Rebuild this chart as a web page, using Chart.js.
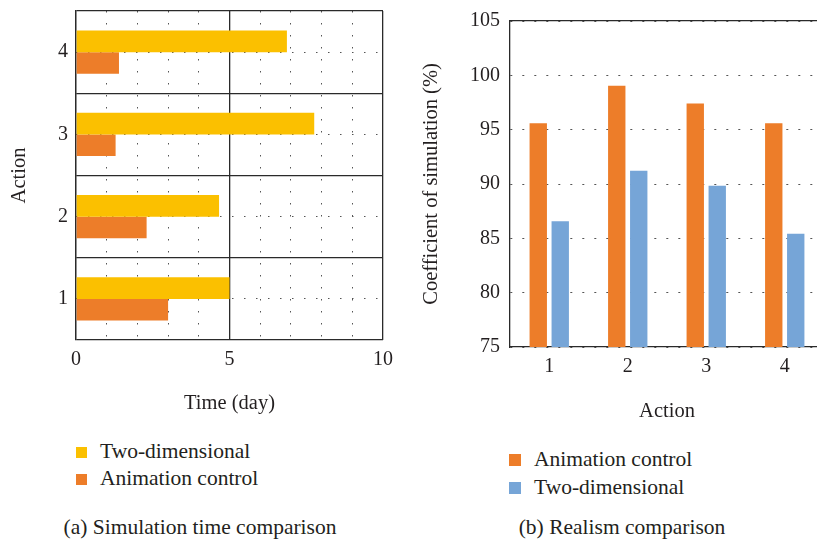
<!DOCTYPE html>
<html>
<head>
<meta charset="utf-8">
<script src="https://cdn.jsdelivr.net/npm/chart.js@4.4.1/dist/chart.umd.min.js"></script>
<style>
  html, body { margin: 0; padding: 0; background: #fff; overflow: hidden; }
  body { width: 817px; height: 539px; position: relative; font-family: 'Liberation Serif', serif; color: #231f20; }
  canvas { position: absolute; top: 0; }
  #timeChart { left: 0; }
  #realChart { left: 410px; }
  .legend { position: absolute; font-size: 21.5px; }
  .legend div { position: relative; white-space: nowrap; }
  .legend span { position: absolute; left: 0; }
  .caption { position: absolute; font-size: 21.5px; line-height: 26px; white-space: nowrap; transform: translateX(-50%); }
</style>
</head>
<body>
<canvas id="timeChart" width="400" height="420"></canvas>
<canvas id="realChart" width="420" height="430"></canvas>
<div class="legend" id="timeLegend" style="left:76px; top:438px; line-height:27px;"></div>
<div class="legend" id="realLegend" style="left:509px; top:446px; line-height:27.5px;"></div>
<div class="caption" style="left:200px; top:514px;">(a) Simulation time comparison</div>
<div class="caption" style="left:622px; top:514px;">(b) Realism comparison</div>
<script>
// data
const actions = ['1', '2', '3', '4'];
const timeTwoDim = [5.0, 4.66, 7.76, 6.87];
const timeAnim = [3.0, 2.3, 1.29, 1.4];
const timeTicks = [0, 5, 10];
const realAnim = [95.6, 99.05, 97.4, 95.6];
const realTwoDim = [86.57, 91.23, 89.85, 85.43];
const realTicks = [75, 80, 85, 90, 95, 100, 105];

const YELLOW = '#FBC000';
const ORANGE = '#ED7D29';
const BLUE = '#76A5D7';
const TEXT = '#231f20';
const SOLID = '#2a2a2a';
const DOT = '#555';
const DOTS = [1.5, 10.5];
const FONT = 'Liberation Serif';

const tickFont = { family: FONT, size: 20 };
const titleFont = { family: FONT, size: 20.5 };

// fix the axis box so the plot area lands where the picture has it
function fixWidth(w) {
    return s => { s.width = w; s.paddingTop = 0; s.paddingBottom = 0; };
}
function fixHeight(h) {
    return s => { s.height = h; s.paddingLeft = 0; s.paddingRight = 0; };
}

// --- CHART A: simulation time (horizontal bars) ---
const timeChart = new Chart(document.getElementById('timeChart'), {
    type: 'bar',
    data: {
        labels: actions,
        datasets: [
            { label: 'Two-dimensional', data: timeTwoDim, backgroundColor: YELLOW, categoryPercentage: 0.525, barPercentage: 1 },
            { label: 'Animation control', data: timeAnim, backgroundColor: ORANGE, categoryPercentage: 0.525, barPercentage: 1 }
        ]
    },
    options: {
        indexAxis: 'y',
        responsive: false,
        animation: false,
        devicePixelRatio: 1,
        layout: { padding: { left: 0, top: 11, right: 17, bottom: 0 } },
        plugins: { legend: { display: false }, tooltip: { enabled: false } },
        scales: {
            x: {
                type: 'linear', min: 0, max: 10,
                afterFit: fixHeight(80),
                grid: {
                    drawTicks: false,
                    color: c => c.tick && timeTicks.includes(c.tick.value) ? SOLID : DOT,
                    lineWidth: c => c.tick && timeTicks.includes(c.tick.value) ? 1.3 : 1
                },
                border: { display: false, dash: c => c.tick && !timeTicks.includes(c.tick.value) ? DOTS : [] },
                ticks: { stepSize: 1, padding: 8, font: tickFont, color: TEXT,
                         callback: v => timeTicks.includes(v) ? String(v) : '' },
                title: { display: true, text: 'Time (day)', font: titleFont, color: TEXT, padding: { top: 0, bottom: 3.7 } }
            },
            y: {
                type: 'category', reverse: true, offset: true,
                afterFit: fixWidth(76),
                grid: { offset: true, color: SOLID, lineWidth: 1.3, drawTicks: false },
                border: { color: SOLID, width: 1.3 },
                ticks: { padding: 8, font: tickFont, color: TEXT },
                title: { display: true, text: 'Action', font: titleFont, color: TEXT, padding: { top: 7.4, bottom: 0 } }
            },
            yMid: {
                type: 'category', labels: actions, reverse: true, offset: true, position: 'left',
                afterFit: fixWidth(0),
                grid: { offset: false, color: DOT, lineWidth: 1, drawTicks: false },
                border: { display: false, dash: DOTS },
                ticks: { display: false }
            }
        }
    }
});

// --- CHART B: realism (vertical bars) ---
const realChart = new Chart(document.getElementById('realChart'), {
    type: 'bar',
    data: {
        labels: actions,
        datasets: [
            { label: 'Animation control', data: realAnim, backgroundColor: ORANGE, categoryPercentage: 0.56, barPercentage: 0.79 },
            { label: 'Two-dimensional', data: realTwoDim, backgroundColor: BLUE, categoryPercentage: 0.56, barPercentage: 0.79 }
        ]
    },
    options: {
        responsive: false,
        animation: false,
        devicePixelRatio: 1,
        layout: { padding: { left: 0, top: 21, right: 6, bottom: 0 } },
        plugins: { legend: { display: false }, tooltip: { enabled: false } },
        scales: {
            x: {
                type: 'category', offset: true,
                afterFit: fixHeight(83),
                grid: { display: false, drawTicks: false },
                border: { color: SOLID, width: 1.3 },
                ticks: { padding: 8, font: tickFont, color: TEXT },
                title: { display: true, text: 'Action', font: titleFont, color: TEXT, padding: { top: 0, bottom: 6 } }
            },
            xTop: {
                type: 'category', labels: actions, offset: true, position: 'top',
                afterFit: fixHeight(0),
                grid: { display: false, drawTicks: false },
                border: { color: SOLID, width: 1.3 },
                ticks: { display: false }
            },
            y: {
                type: 'linear', min: realTicks[0], max: realTicks[realTicks.length - 1],
                afterBuildTicks: s => { s.ticks = realTicks.map(v => ({ value: v })); },
                afterFit: fixWidth(100),
                grid: { color: DOT, lineWidth: 1, drawTicks: false },
                border: { color: SOLID, width: 1.3, dash: c => c.tick ? [2, 10] : [] },
                ticks: { padding: 10, font: tickFont, color: TEXT },
                title: { display: true, text: 'Coefficient of simulation (%)', font: titleFont, color: TEXT, padding: { top: 9.7, bottom: 0 } }
            }
        }
    }
});

// HTML legends built from the charts' datasets
function buildLegend(chart, id, box) {
    const el = document.getElementById(id);
    chart.data.datasets.forEach(ds => {
        const row = document.createElement('div');
        row.style.paddingLeft = box.pad + 'px';
        const sw = document.createElement('span');
        sw.style.background = ds.backgroundColor;
        sw.style.width = box.size + 'px';
        sw.style.height = box.size + 'px';
        sw.style.top = box.top + 'px';
        row.appendChild(sw);
        row.appendChild(document.createTextNode(ds.label));
        el.appendChild(row);
    });
}
buildLegend(timeChart, 'timeLegend', { pad: 24, size: 11, top: 8.5 });
buildLegend(realChart, 'realLegend', { pad: 25, size: 12, top: 8 });
</script>
</body>
</html>
